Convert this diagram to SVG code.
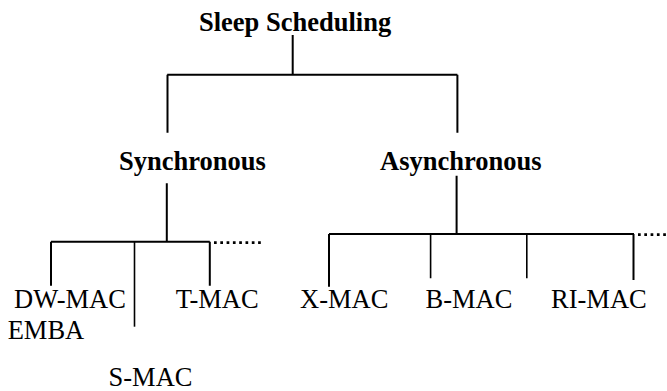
<svg xmlns="http://www.w3.org/2000/svg" width="667" height="391" viewBox="0 0 667 391">
<style>
text{font-family:"Liberation Serif","Times New Roman",serif;font-size:26.5px;fill:#000}
.b{font-weight:bold}
.ln{stroke:#000;stroke-width:2;fill:none}
.thin{stroke:#000;stroke-width:1.6;fill:none}
.dot{stroke:#000;stroke-width:2.6;fill:none;stroke-dasharray:2.7 3.6}
</style>
<rect width="667" height="391" fill="#fff"/>
<g id="connectors">
<path class="ln" d="M292.7 35V74.7M167.2 74.7H457.4M167.5 74.7V132.7M457.4 74.7V132.7"/>
<path class="ln" d="M166.8 183.3V241.7M51 241.7H209.8M51 241.7V285.7M209.8 241.7V285.7"/>
<path class="thin" d="M134.5 241.7V326.7"/>
<path class="dot" d="M214 242.6H262"/>
<path class="ln" d="M456.6 175.7V234M329 234H634M329 234V286.7M633.5 234V280"/>
<path class="thin" d="M430.6 234V278.3M526.8 234V278.3"/>
<path class="dot" d="M638 234.6H667"/>
</g>
<g id="n-sleep"><text class="b" x="199" y="31">Sleep Scheduling</text></g>
<g id="n-sync"><text class="b" x="119" y="170">Synchronous</text></g>
<g id="n-async"><text class="b" x="380" y="170">Asynchronous</text></g>
<g id="n-dwmac"><text x="14" y="308.3">DW-MAC</text></g>
<g id="n-emba"><text x="7.7" y="339.3">EMBA</text></g>
<g id="n-smac"><text x="108.5" y="386">S-MAC</text></g>
<g id="n-tmac"><text x="175.7" y="308.3">T-MAC</text></g>
<g id="n-xmac"><text x="300" y="308.3">X-MAC</text></g>
<g id="n-bmac"><text x="425.5" y="308.3">B-MAC</text></g>
<g id="n-rimac"><text x="551" y="308.3">RI-MAC</text></g>
</svg>
